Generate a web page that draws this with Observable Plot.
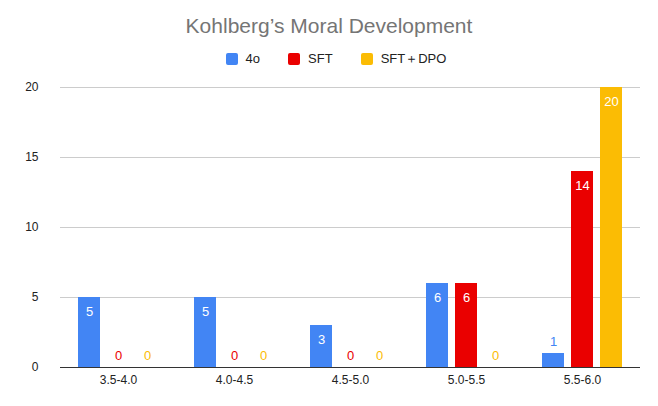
<!DOCTYPE html>
<html><head><meta charset="utf-8">
<script src="https://cdn.jsdelivr.net/npm/d3@7"></script>
<script src="https://cdn.jsdelivr.net/npm/@observablehq/plot@0.6"></script>
<style>
body{margin:0;background:#fff;font-family:"Liberation Sans",Arial,sans-serif;}
#title{text-align:center;font-size:21px;color:#757575;padding-top:14px;height:28px;}
#legend{display:flex;justify-content:center;gap:28px;font-size:13px;color:#222;height:33px;align-items:center;padding-left:14px}
#legend span{display:inline-flex;align-items:center;gap:8px}
#legend i{display:inline-block;width:12px;height:12px;border-radius:2px}
</style></head><body>
<div id="title">Kohlberg’s Moral Development</div>
<div id="legend"></div>
<div id="chart"></div>
<script>
const categories = ["3.5-4.0","4.0-4.5","4.5-5.0","5.0-5.5","5.5-6.0"];
const series = ["4o","SFT","SFT＋DPO"];
const colors = ["#4285f4","#ea0000","#fbbc04"];
const values4o = [5,5,3,6,1];
const valuesSFT = [0,0,0,6,14];
const valuesDPO = [0,0,0,0,20];
const yTicks = [0,5,10,15,20];
const all = [values4o, valuesSFT, valuesDPO];
const data = [];
categories.forEach((c,i)=>series.forEach((s,j)=>data.push({cat:c, s, key:c+"|"+s, v:all[j][i]})));
const xDomain = [];
categories.forEach((c,i)=>{ if(i>0) xDomain.push("gap"+i); series.forEach(s=>xDomain.push(c+"|"+s)); });
const midKeys = categories.map(c=>c+"|"+series[1]);
document.getElementById("legend").innerHTML = series.map((s,j)=>`<span><i style="background:${colors[j]}"></i>${s}</span>`).join("");
const big = data.filter(d=>d.v>=3), small = data.filter(d=>d.v<3);
const chart = Plot.plot({
  width:658, height:331, marginLeft:60, marginRight:18, marginTop:12, marginBottom:39,
  style:{fontSize:"12px", fontFamily:"'Liberation Sans',Arial,sans-serif", color:"#222"},
  x:{domain:xDomain, paddingInner:0.24, paddingOuter:0.5, ticks:midKeys, tickFormat:k=>k.split("|")[0], label:null, tickSize:0, tickPadding:8},
  y:{domain:[0,20], ticks:yTicks, label:null, tickSize:0, tickPadding:22},
  color:{domain:series, range:colors},
  marks:[
    Plot.gridY(yTicks,{stroke:"#ccc", strokeOpacity:1}),
    Plot.barY(data,{x:"key", y:"v", fill:"s"}),
    Plot.ruleY([0],{stroke:"#333"}),
    Plot.text(big,{x:"key", y:"v", text:d=>String(d.v), dy:14, fill:"white", fontSize:13}),
    Plot.text(small,{x:"key", y:"v", text:d=>String(d.v), dy:-12, fill:"s", fontSize:13})
  ]
});
document.getElementById("chart").appendChild(chart);
</script></body></html>
